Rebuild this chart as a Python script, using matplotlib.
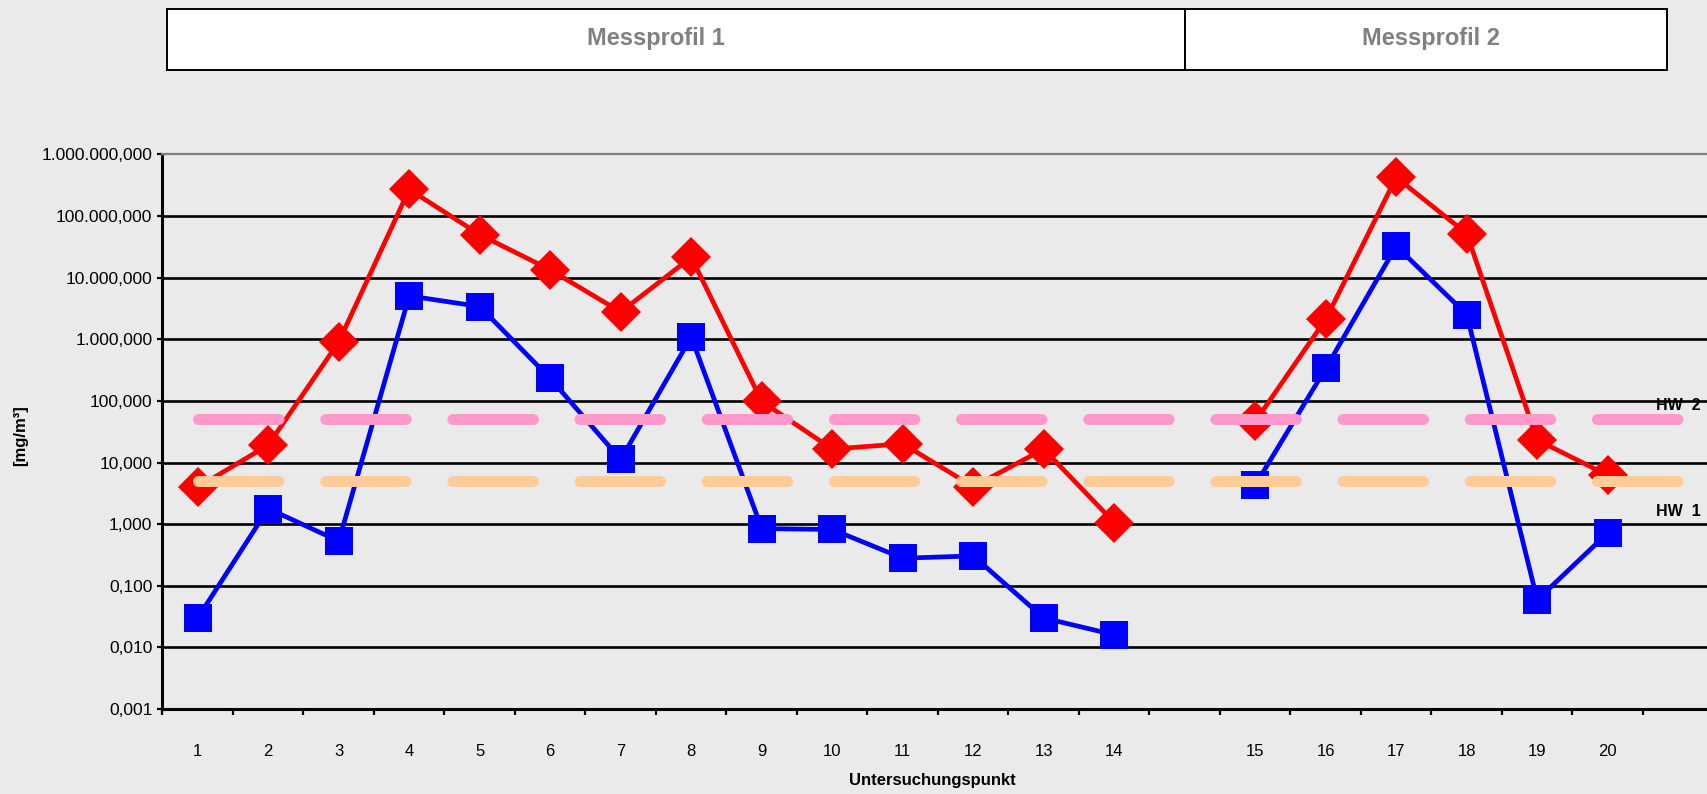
import numpy as np
import matplotlib
matplotlib.use("Agg")
import matplotlib.pyplot as plt
from matplotlib.patches import Rectangle
from matplotlib.transforms import blended_transform_factory
from matplotlib.ticker import NullLocator

plt.rcParams['font.family'] = ['Liberation Sans', 'DejaVu Sans']

# ---------------- data ----------------
categories = ["1", "2", "3", "4", "5", "6", "7", "8", "9", "10",
              "11", "12", "13", "14", "15", "16", "17", "18", "19", "20"]
profile_names = ["Messprofil 1", "Messprofil 2"]
profile_sizes = [14, 6]

red_values = [3.97, 19.2, 904, 270000, 49900, 13400, 2770, 21400, 98, 16.5,
              20.2, 4.05, 16.5, 1.06, 46.4, 2100, 424000, 51800, 23.2, 6.2]
blue_values = [0.030, 1.79, 0.53, 5050, 3400, 231, 11.2, 1090, 0.845, 0.82,
               0.28, 0.305, 0.030, 0.016, 4.3, 337, 32400, 2520, 0.059, 0.72]

hw_levels = [5, 50]
hw_names = ["HW  1", "HW  2"]
hw_label_values = [1.6, 85]

ytick_values = [0.001, 0.01, 0.1, 1, 10, 100, 1000, 10000, 100000, 1000000]
ytick_labels = ["0,001", "0,010", "0,100", "1,000", "10,000", "100,000",
                "1.000,000", "10.000,000", "100.000,000", "1.000.000,000"]

# ---------------- layout ----------------
W, H = 1708, 794
BG = "#EAEAEA"

# slot positions: profile 1 -> slots 1..14, gap slot, profile 2 -> 16..21
positions = []
groups = []
slot = 1
group_centers = []
start_idx = 0
for size in profile_sizes:
    grp = list(range(slot, slot + size))
    positions += grp
    groups.append((start_idx, start_idx + size))
    group_centers.append((grp[0] + grp[-1]) / 2)
    slot += size + 1
    start_idx += size
n_slots = positions[-1] + 1

fig = plt.figure(figsize=(W / 100, H / 100), dpi=100, facecolor=BG)
ax_left, ax_right = 162.5, 162.5 + 70.5 * n_slots
ax_top, ax_bot = 154.4, 709
ax = fig.add_axes([ax_left / W, 1 - ax_bot / H, (ax_right - ax_left) / W, (ax_bot - ax_top) / H])
ax.set_facecolor(BG)
ax.set_yscale("log")
ax.set_ylim(1e-3, 1e6)
ax.set_xlim(0.5, n_slots + 0.5)

# gridlines
for v in ytick_values[1:-1]:
    ax.axhline(v, color="black", lw=1.9, zorder=1)

# data series, drawn per measuring profile (no line across the gap)
for a, b in groups:
    ax.plot(positions[a:b], blue_values[a:b], color="#0000FF", lw=3.4, marker="s",
            ms=19.5, mew=0, zorder=3, clip_on=False)
for a, b in groups:
    ax.plot(positions[a:b], red_values[a:b], color="#FF0000", lw=3.4, marker="D",
            ms=20.5, mew=0, zorder=4, clip_on=False)

# HW lines
hw_colors = ["#FFCC99", "#FF99CC"]
for lvl, col in zip(hw_levels, hw_colors):
    ax.plot([positions[0], n_slots], [lvl, lvl], color=col, lw=7.9,
            dashes=(7.35, 4.24), dash_capstyle="round", solid_capstyle="round",
            zorder=5, clip_on=False)
for name, yv in zip(hw_names, hw_label_values):
    ax.text(n_slots, yv, name, ha="center", va="center", fontsize=11.5,
            fontweight="bold", color="black", zorder=6)

# spines
for s in ["left", "bottom"]:
    ax.spines[s].set_color("black")
    ax.spines[s].set_linewidth(2.2)
ax.spines["top"].set_color("#808080")
ax.spines["top"].set_linewidth(1.6)
ax.spines["right"].set_visible(False)

# ticks
ax.set_yticks(ytick_values)
ax.set_yticklabels(ytick_labels)
ax.yaxis.set_minor_locator(NullLocator())
ax.tick_params(axis="y", which="major", direction="out", length=3.6, width=1.6,
               pad=3.6, labelsize=12.5, colors="black")
ax.set_xticks(positions)
ax.set_xticklabels(categories)
ax.set_xticks(np.arange(0.5, n_slots + 1, 1), minor=True)
ax.tick_params(axis="x", which="major", length=0, pad=25.5, labelsize=12)
ax.tick_params(axis="x", which="minor", direction="out", length=4.5, width=1.6)

# axis titles
fig.text(21 / W, 1 - 436 / H, "[mg/m³]", rotation=90, ha="center", va="center",
         fontsize=12, fontweight="bold")
fig.text(932 / W, 1 - 780 / H, "Untersuchungspunkt", ha="center", va="center",
         fontsize=12, fontweight="bold")

# header boxes
box_top, box_bot = 9, 70
edges = [166.6, 1185, 1666.6]
for i in range(2):
    r = Rectangle((edges[i] / W, 1 - box_bot / H), (edges[i + 1] - edges[i]) / W,
                  (box_bot - box_top) / H, transform=fig.transFigure,
                  facecolor="white", edgecolor="black", lw=1.4)
    fig.patches.append(r)
trans = blended_transform_factory(ax.transData, fig.transFigure)
for name, cx in zip(profile_names, group_centers):
    fig.text(cx, 1 - 38 / H, name, transform=trans, ha="center", va="center",
             fontsize=17, fontweight="bold", color="#808080")

fig.savefig("out.png", dpi=100, facecolor=BG)
